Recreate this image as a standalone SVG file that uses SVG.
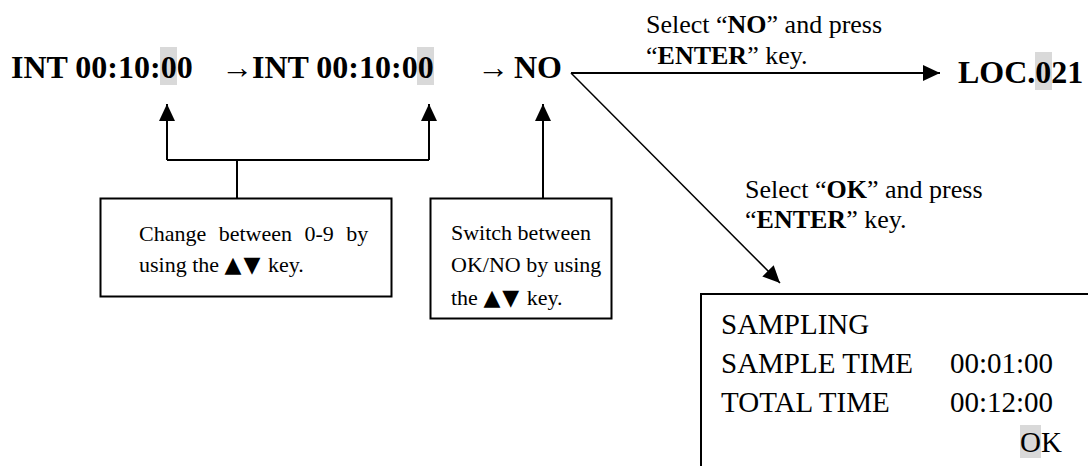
<svg xmlns="http://www.w3.org/2000/svg" width="1088" height="466" viewBox="0 0 1088 466">
<style>
.big{font-family:"Liberation Serif","Times New Roman",serif;font-weight:bold;font-size:32px;fill:#000}
.lbl{font-family:"Liberation Serif","Times New Roman",serif;font-size:26px;fill:#000}
.box{font-family:"Liberation Serif","Times New Roman",serif;font-size:22px;fill:#000}
.scr{font-family:"Liberation Serif","Times New Roman",serif;font-size:29px;fill:#000}
.hl{fill:#d9d9d9}
.frame{fill:none;stroke:#000;stroke-width:2}
.ln{fill:none;stroke:#000;stroke-width:2}
.ln1{fill:none;stroke:#000;stroke-width:1.5}
.sym{font-family:"DejaVu Sans",sans-serif;font-size:22px;letter-spacing:2px}
</style>
<defs>
<marker id="ah" markerUnits="userSpaceOnUse" markerWidth="18" markerHeight="18" refX="17" refY="8" orient="auto">
<path d="M0,0 L17,8 L0,16 z" fill="#000"/>
</marker>
</defs>
<rect x="0" y="0" width="1088" height="466" fill="#fff"/>

<g id="state1">
<rect class="hl" x="160" y="47" width="17" height="38"/>
<text class="big" x="11" y="78">INT 00:10:00</text>
</g>
<g id="state2">
<rect class="hl" x="417" y="47" width="17" height="38"/>
<text class="big" x="221" y="78">→<tspan x="252">INT 00:10:00</tspan></text>
</g>
<g id="state3">
<text class="big" x="477" y="78">→ <tspan x="514">NO</tspan></text>
</g>
<g id="loc">
<rect class="hl" x="1035" y="52" width="17" height="38"/>
<text class="big" x="958" y="83">LOC.021</text>
</g>

<g id="note1">
<rect class="frame" x="100.5" y="198.5" width="291" height="98"/>
<text class="box" x="139" y="241" word-spacing="7">Change between 0-9 by</text>
<text class="box" x="139" y="272">using the <tspan class="sym">▲▼</tspan> key.</text>
</g>
<g id="note2">
<rect class="frame" x="430.5" y="198.5" width="181" height="120"/>
<text class="box" x="451" y="240">Switch between</text>
<text class="box" x="451" y="272">OK/NO by using</text>
<text class="box" x="451" y="305">the <tspan class="sym">▲▼</tspan> key.</text>
</g>
<g id="screen">
<rect class="frame" x="701" y="294" width="420" height="200"/>
<rect class="hl" x="1020" y="425" width="21" height="33"/>
<text class="scr" x="721" y="334">SAMPLING</text>
<text class="scr" x="721" y="373">SAMPLE TIME</text>
<text class="scr" x="950" y="373">00:01:00</text>
<text class="scr" x="721" y="412">TOTAL TIME</text>
<text class="scr" x="950" y="412">00:12:00</text>
<text class="scr" x="1020" y="452">OK</text>
</g>

<g id="labels">
<text class="lbl" x="646" y="33">Select “<tspan font-weight="bold">NO</tspan>” and press</text>
<text class="lbl" x="646" y="64">“<tspan font-weight="bold">ENTER</tspan>” key.</text>
<text class="lbl" x="745" y="198">Select “<tspan font-weight="bold">OK</tspan>” and press</text>
<text class="lbl" x="745" y="228">“<tspan font-weight="bold">ENTER</tspan>” key.</text>
</g>

<g id="connectors">
<polyline class="ln" points="167,160 429,160"/>
<line class="ln" x1="167" y1="160" x2="167" y2="104" marker-end="url(#ah)"/>
<line class="ln" x1="429" y1="160" x2="429" y2="104" marker-end="url(#ah)"/>
<line class="ln" x1="237" y1="160" x2="237" y2="198"/>
<line class="ln" x1="543" y1="198" x2="543" y2="104" marker-end="url(#ah)"/>
<line class="ln" x1="571" y1="73" x2="940" y2="73" marker-end="url(#ah)"/>
<line class="ln1" x1="571" y1="73" x2="780" y2="283" marker-end="url(#ah)"/>
</g>
</svg>
